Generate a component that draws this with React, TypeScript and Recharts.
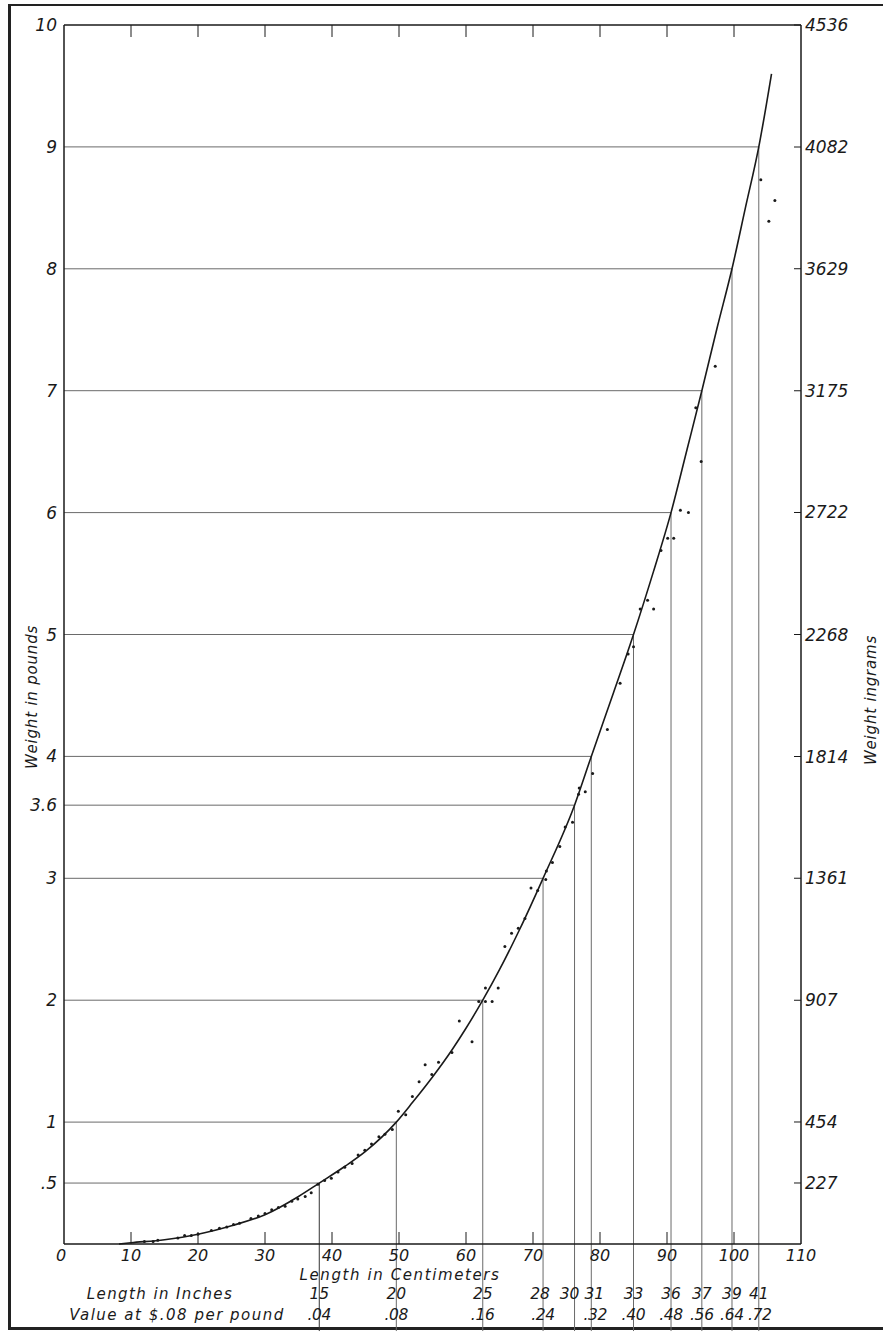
import React from "react";
import {
  ComposedChart,
  Line,
  Scatter,
  XAxis,
  YAxis,
  ReferenceLine,
} from "recharts";

// Smoothed curve: length (cm) -> weight (lb)
const curve = [
  { cm: 8.2, lb: 0 },
  { cm: 10, lb: 0.01 },
  { cm: 15, lb: 0.035 },
  { cm: 20, lb: 0.08 },
  { cm: 25, lb: 0.15 },
  { cm: 30, lb: 0.24 },
  { cm: 35, lb: 0.39 },
  { cm: 38.1, lb: 0.5 },
  { cm: 42, lb: 0.64 },
  { cm: 45, lb: 0.76 },
  { cm: 49.6, lb: 1.0 },
  { cm: 52, lb: 1.16 },
  { cm: 55, lb: 1.37 },
  { cm: 58, lb: 1.6 },
  { cm: 60, lb: 1.77 },
  { cm: 62.5, lb: 2.0 },
  { cm: 65, lb: 2.25 },
  { cm: 68, lb: 2.58 },
  { cm: 71.5, lb: 3.0 },
  { cm: 76.2, lb: 3.6 },
  { cm: 78.7, lb: 4.0 },
  { cm: 82, lb: 4.52 },
  { cm: 85, lb: 5.0 },
  { cm: 88, lb: 5.52 },
  { cm: 90.6, lb: 6.0 },
  { cm: 93, lb: 6.52 },
  { cm: 95.2, lb: 7.0 },
  { cm: 97.5, lb: 7.52 },
  { cm: 99.7, lb: 8.0 },
  { cm: 101.7, lb: 8.5 },
  { cm: 103.7, lb: 9.0 },
  { cm: 105.6, lb: 9.6 },
];

// Observed specimens
const specimens = [
  { cm: 12, lb: 0.02 }, { cm: 13.3, lb: 0.02 }, { cm: 14, lb: 0.03 },
  { cm: 17, lb: 0.05 }, { cm: 18, lb: 0.07 }, { cm: 19, lb: 0.07 },
  { cm: 20, lb: 0.08 }, { cm: 22, lb: 0.11 }, { cm: 23.2, lb: 0.13 },
  { cm: 24.3, lb: 0.14 }, { cm: 25.3, lb: 0.16 }, { cm: 26.2, lb: 0.17 },
  { cm: 27.9, lb: 0.21 }, { cm: 29, lb: 0.23 }, { cm: 30, lb: 0.25 },
  { cm: 31, lb: 0.28 }, { cm: 32, lb: 0.3 }, { cm: 33, lb: 0.31 },
  { cm: 34, lb: 0.35 }, { cm: 34.9, lb: 0.37 }, { cm: 36, lb: 0.39 },
  { cm: 36.9, lb: 0.42 }, { cm: 37.9, lb: 0.49 }, { cm: 38.9, lb: 0.52 },
  { cm: 39.9, lb: 0.54 }, { cm: 40.9, lb: 0.59 }, { cm: 41.9, lb: 0.63 },
  { cm: 43, lb: 0.66 }, { cm: 43.9, lb: 0.73 }, { cm: 44.9, lb: 0.77 },
  { cm: 45.9, lb: 0.82 }, { cm: 47, lb: 0.88 }, { cm: 47.9, lb: 0.9 },
  { cm: 49, lb: 0.94 }, { cm: 49.9, lb: 1.09 }, { cm: 51, lb: 1.06 },
  { cm: 52, lb: 1.21 }, { cm: 53, lb: 1.33 }, { cm: 53.9, lb: 1.47 },
  { cm: 54.9, lb: 1.39 }, { cm: 55.9, lb: 1.49 }, { cm: 57.9, lb: 1.57 },
  { cm: 59, lb: 1.83 }, { cm: 60.9, lb: 1.66 }, { cm: 61.9, lb: 1.99 },
  { cm: 62.9, lb: 1.99 }, { cm: 63.9, lb: 1.99 }, { cm: 62.9, lb: 2.1 },
  { cm: 64.8, lb: 2.1 }, { cm: 65.8, lb: 2.44 }, { cm: 66.8, lb: 2.55 },
  { cm: 67.8, lb: 2.59 }, { cm: 68.8, lb: 2.67 }, { cm: 69.7, lb: 2.92 },
  { cm: 70.7, lb: 2.9 }, { cm: 71.9, lb: 2.99 }, { cm: 72, lb: 3.06 },
  { cm: 72.9, lb: 3.13 }, { cm: 74, lb: 3.26 }, { cm: 74.8, lb: 3.42 },
  { cm: 75.9, lb: 3.46 }, { cm: 76.8, lb: 3.69 }, { cm: 76.9, lb: 3.74 },
  { cm: 77.8, lb: 3.71 }, { cm: 78.9, lb: 3.86 }, { cm: 81.1, lb: 4.22 },
  { cm: 83, lb: 4.6 }, { cm: 84.2, lb: 4.84 }, { cm: 85, lb: 4.9 },
  { cm: 86, lb: 5.21 }, { cm: 87.1, lb: 5.28 }, { cm: 88, lb: 5.21 },
  { cm: 89.1, lb: 5.69 }, { cm: 90.1, lb: 5.79 }, { cm: 91, lb: 5.79 },
  { cm: 92, lb: 6.02 }, { cm: 93.2, lb: 6.0 }, { cm: 95.1, lb: 6.42 },
  { cm: 94.3, lb: 6.86 }, { cm: 97.2, lb: 7.2 }, { cm: 104, lb: 8.73 },
  { cm: 106.1, lb: 8.56 }, { cm: 105.2, lb: 8.39 },
];

// Guide lines (weight levels and where the curve meets them)
const guideWeights = [0.5, 1, 2, 3, 3.6, 4, 5, 6, 7, 8, 9];
const guideLengths = [38.1, 49.6, 62.5, 71.5, 76.2, 78.7, 85.0, 90.6, 95.2, 99.7, 103.7];
const inchLabels = ["15", "20", "25", "28", "30", "31", "33", "36", "37", "39", "41"];
const valueLabels = [".04", ".08", ".16", ".24", "", ".32", ".40", ".48", ".56", ".64", ".72"];

const cmTicks = [0, 10, 20, 30, 40, 50, 60, 70, 80, 90, 100, 110];
const topTicks = [10, 20, 30, 40, 50, 60, 70, 80, 90, 100];
const lbTicks = [0.5, 1, 2, 3, 3.6, 4, 5, 6, 7, 8, 9, 10];
const lbLabels = [".5", "1", "2", "3", "3.6", "4", "5", "6", "7", "8", "9", "10"];
const gramTicks = [227, 454, 907, 1361, 1814, 2268, 2722, 3175, 3629, 4082, 4536];

const FONT = "'DejaVu Sans', 'Liberation Sans', sans-serif";
const INK = "#1a1a1a";
const GUIDE = "#6a6a6a";
const BOTTOM_EXT = -0.714; // guide lines run down to the frame

// small horizontal nudges so crowded labels don't collide (px)
const inchNudge: Record<string, number> = { "28": -3, "30": -5, "31": 3 };
const valueNudge: Record<string, number> = { ".32": 4, ".72": 1 };

const txt = {
  fontFamily: FONT,
  fontStyle: "italic" as const,
  fill: INK,
};

const LeftTick = (p: any) => {
  const i = lbTicks.indexOf(p.payload.value);
  return (
    <text x={p.x - 7} y={p.y} textAnchor="end" dominantBaseline="central" fontSize={17} style={txt}>
      {i >= 0 ? lbLabels[i] : p.payload.value}
    </text>
  );
};

const RightTick = (p: any) => (
  <g>
    <line x1={p.x - 7} x2={p.x} y1={p.y} y2={p.y} stroke={INK} strokeWidth={1} />
    <text x={p.x + 4} y={p.y} textAnchor="start" dominantBaseline="central" fontSize={17} style={txt}>
      {p.payload.value}
    </text>
  </g>
);

const BottomTick = (p: any) => {
  const v = p.payload.value;
  return (
    <g>
      {v > 0 && v < 110 ? (
        <line x1={p.x} x2={p.x} y1={p.y} y2={p.y - 12} stroke={INK} strokeWidth={1} />
      ) : null}
      <text x={v === 0 ? p.x - 3 : p.x} y={p.y + 11} textAnchor="middle" dominantBaseline="central" fontSize={16} style={txt}>
        {v}
      </text>
    </g>
  );
};

const TopTick = (p: any) => (
  <line x1={p.x} x2={p.x} y1={p.y} y2={p.y + 12} stroke={INK} strokeWidth={1} />
);

const InchTick = (p: any) => {
  const i = guideLengths.indexOf(p.payload.value);
  const s = i >= 0 ? inchLabels[i] : "";
  return (
    <text x={p.x + (inchNudge[s] || 0)} y={p.y + 10} textAnchor="middle" dominantBaseline="central" fontSize={15.5} style={txt}>
      {s}
    </text>
  );
};

const ValueTick = (p: any) => {
  const i = guideLengths.indexOf(p.payload.value);
  const s = i >= 0 ? valueLabels[i] : "";
  return (
    <text x={p.x + (valueNudge[s] || 0)} y={p.y + 10} textAnchor="middle" dominantBaseline="central" fontSize={15.5} letterSpacing={-0.3} style={txt}>
      {s}
    </text>
  );
};

const Dot = (p: any) => <circle cx={p.cx} cy={p.cy} r={1.5} fill={INK} />;

const labelStyle = (left: number, top: number, spacing: number, rotate = false): React.CSSProperties => ({
  position: "absolute",
  left,
  top,
  transform: rotate ? "translate(-50%, -50%) rotate(-90deg)" : "translate(-50%, -50%)",
  whiteSpace: "nowrap",
  fontFamily: FONT,
  fontStyle: "italic",
  fontSize: 15,
  lineHeight: "16px",
  letterSpacing: spacing,
  color: INK,
});

export default function App() {
  const W = 883;
  const H = 1334;
  return (
    <div style={{ position: "absolute", left: 0, top: 0, width: W, height: H, background: "#fff", overflow: "hidden" }}>
      <div
        style={{
          position: "absolute",
          left: 8,
          top: 4,
          width: W,
          height: 1326,
          borderTop: "2px solid #222",
          borderLeft: "3px solid #222",
          borderBottom: "3px solid #222",
          boxSizing: "border-box",
        }}
      />
      <div style={{ position: "absolute", left: 0, top: 0 }}>
        <ComposedChart width={W} height={H} margin={{ top: 0, right: 0, bottom: 8, left: 0 }}>
          <XAxis
            xAxisId="cm"
            dataKey="cm"
            type="number"
            domain={[0, 110]}
            ticks={cmTicks}
            interval={0}
            height={40}
            tickSize={0}
            tickMargin={0}
            tick={BottomTick}
            axisLine={{ stroke: INK, strokeWidth: 1.5 }}
          />
          <XAxis
            xAxisId="inch"
            dataKey="cm"
            type="number"
            domain={[0, 110]}
            ticks={guideLengths}
            interval={0}
            height={21}
            tickSize={0}
            tickMargin={0}
            tick={InchTick}
            axisLine={false}
          />
          <XAxis
            xAxisId="val"
            dataKey="cm"
            type="number"
            domain={[0, 110]}
            ticks={guideLengths}
            interval={0}
            height={21}
            tickSize={0}
            tickMargin={0}
            tick={ValueTick}
            axisLine={false}
          />
          <XAxis
            xAxisId="top"
            dataKey="cm"
            orientation="top"
            type="number"
            domain={[0, 110]}
            ticks={topTicks}
            interval={0}
            height={25}
            tickSize={0}
            tickMargin={0}
            tick={TopTick}
            axisLine={{ stroke: INK, strokeWidth: 1.5 }}
          />
          <YAxis
            yAxisId="lb"
            type="number"
            domain={[0, 10]}
            ticks={lbTicks}
            interval={0}
            width={64}
            tickSize={0}
            tickMargin={0}
            tick={LeftTick}
            axisLine={{ stroke: INK, strokeWidth: 1.5 }}
          />
          <YAxis
            yAxisId="g"
            orientation="right"
            type="number"
            domain={[0, 4536]}
            ticks={gramTicks}
            interval={0}
            width={82}
            tickSize={0}
            tickMargin={0}
            tick={RightTick}
            axisLine={{ stroke: INK, strokeWidth: 1.5 }}
          />
          {guideWeights.map((w, i) => (
            <ReferenceLine
              key={"h" + i}
              xAxisId="cm"
              yAxisId="lb"
              segment={[
                { x: 0, y: w },
                { x: guideLengths[i], y: w },
              ]}
              stroke={GUIDE}
              strokeWidth={1}
              ifOverflow="visible"
            />
          ))}
          {guideWeights.map((w, i) => (
            <ReferenceLine
              key={"v" + i}
              xAxisId="cm"
              yAxisId="lb"
              segment={[
                { x: guideLengths[i], y: w },
                { x: guideLengths[i], y: BOTTOM_EXT },
              ]}
              stroke={i === 0 ? "#333" : GUIDE}
              strokeWidth={1}
              ifOverflow="visible"
            />
          ))}
          {/* invisible carriers so the auxiliary axes get ticks */}
          <Line xAxisId="inch" yAxisId="g" data={curve} dataKey="lb" stroke="none" dot={false} activeDot={false} legendType="none" isAnimationActive={false} />
          <Line xAxisId="val" yAxisId="lb" data={curve} dataKey="lb" stroke="none" dot={false} activeDot={false} legendType="none" isAnimationActive={false} />
          <Line xAxisId="top" yAxisId="lb" data={curve} dataKey="lb" stroke="none" dot={false} activeDot={false} legendType="none" isAnimationActive={false} />
          <Scatter
            xAxisId="cm"
            yAxisId="lb"
            data={specimens}
            dataKey="lb"
            shape={Dot}
            isAnimationActive={false}
          />
          <Line
            xAxisId="cm"
            yAxisId="lb"
            data={curve}
            dataKey="lb"
            type="monotone"
            stroke={INK}
            strokeWidth={1.6}
            dot={false}
            activeDot={false}
            isAnimationActive={false}
          />
        </ComposedChart>
      </div>
      <div style={labelStyle(32, 697, 0.8, true)}>Weight in pounds</div>
      <div style={labelStyle(871, 700, 0.8, true)}>Weight ingrams</div>
      <div style={labelStyle(400, 1275, 1.6)}>Length in Centimeters</div>
      <div style={labelStyle(160, 1294, 1.4)}>Length in Inches</div>
      <div style={labelStyle(177, 1315, 1.5)}>Value at $.08 per pound</div>
    </div>
  );
}
